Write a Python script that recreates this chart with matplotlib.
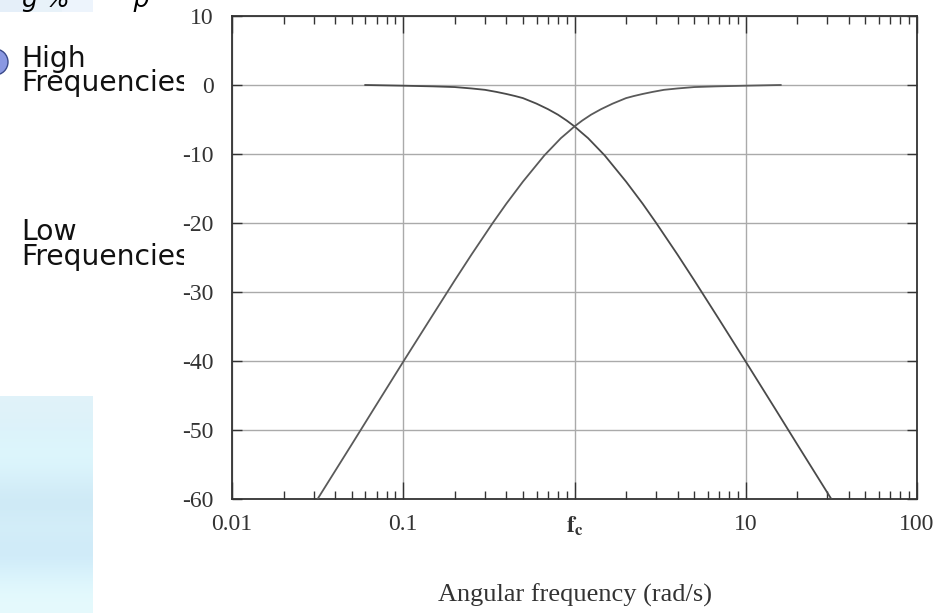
import matplotlib
matplotlib.use("Agg")
import matplotlib.pyplot as plt
import numpy as np
from matplotlib.patches import Rectangle, Circle
from matplotlib.ticker import LogLocator, NullFormatter, FixedLocator

# gain (dB)
w_low = [0.06, 0.1, 0.15, 0.2, 0.25, 0.3, 0.35, 0.4, 0.45, 0.5, 0.6, 0.7, 0.8, 0.9, 1.0,
         1.1, 1.2, 1.5, 2.0, 2.5, 3.0, 4.0, 5.0, 7.0, 10.0, 15.0, 20.0, 31.6]
g_low = [0.0, -0.1, -0.2, -0.3, -0.5, -0.7, -1.0, -1.3, -1.6, -1.9, -2.7, -3.5, -4.3,
         -5.15, -6.0, -6.9, -7.7, -10.2, -14.0, -17.2, -20.0, -24.6, -28.3, -34.0, -40.1,
         -47.1, -52.1, -60.0]
w_high = [0.0316, 0.05, 0.0667, 0.1, 0.143, 0.2, 0.25, 0.333, 0.4, 0.5, 0.667, 0.833,
          0.909, 1.0, 1.11, 1.25, 1.43, 1.67, 2.0, 2.22, 2.5, 2.86, 3.33, 4.0, 5.0, 6.67,
          10.0, 16.0]
g_high = [-60.0, -52.1, -47.1, -40.1, -34.0, -28.3, -24.6, -20.0, -17.2, -14.0, -10.2,
          -7.7, -6.9, -6.0, -5.15, -4.3, -3.5, -2.7, -1.9, -1.6, -1.3, -1.0, -0.7, -0.5,
          -0.3, -0.2, -0.1, 0.0]

x_ticks = [0.01, 0.1, 1, 10, 100]
x_labels = ["0.01", "0.1", r"$\mathbf{f}_{\mathbf{c}}$", "10", "100"]
y_ticks = [10, 0, -10, -20, -30, -40, -50, -60]

plt.rcParams["mathtext.fontset"] = "stix"

W, H = 933, 613
fig = plt.figure(figsize=(W / 100, H / 100), dpi=100)
fig.patch.set_facecolor("white")

def fx(px):
    return px / W

def fy(py):
    return 1 - py / H

# slide decoration on the left
band = fig.add_axes([0, fy(12), fx(93), 12 / H])
band.imshow(np.array([[[0.90, 0.94, 0.98], [0.91, 0.95, 0.98], [0.93, 0.96, 0.99]]]),
            aspect="auto", extent=[0, 1, 0, 1])
band.set_axis_off()
grad = fig.add_axes([0, 0, fx(93), 217 / H])
cols = np.array([[0.88, 0.95, 0.98], [0.86, 0.95, 0.98], [0.87, 0.97, 0.99],
                 [0.84, 0.94, 0.98], [0.80, 0.91, 0.96], [0.84, 0.94, 0.98],
                 [0.80, 0.91, 0.97], [0.86, 0.96, 0.99], [0.90, 0.98, 0.99]])
grad.imshow(cols[:, None, :], aspect="auto", interpolation="bicubic",
            extent=[0, 1, 0, 1])
grad.set_axis_off()

fig.patches.append(Circle((-0.05, (H - 62) / 100), 0.13, transform=fig.dpi_scale_trans,
                          facecolor="#8a98e2", edgecolor="#3a4a8a", lw=1, zorder=1))
fig.text(fx(22), fy(7), "g %        p", fontsize=18, style="italic",
         va="baseline", ha="left", zorder=1)
fig.text(fx(21), fy(45), "High\nFrequencies", fontsize=20.3, va="top", ha="left",
         linespacing=0.8, color="#111111", zorder=1)
fig.text(fx(21), fy(218), "Low\nFrequencies", fontsize=20.3, va="top", ha="left",
         linespacing=0.85, color="#111111", zorder=1)
fig.patches.append(Rectangle((fx(184), 0), 1 - fx(184), 1, transform=fig.transFigure,
                             facecolor="white", edgecolor="none", zorder=2))

# main chart
ax = fig.add_axes([fx(232), fy(499), (917 - 232) / W, (499 - 16) / H])
ax.set_zorder(3)
ax.set_xscale("log")
ax.set_xlim(0.01, 100)
ax.set_ylim(-60, 10)

ax.plot(w_low, g_low, color="#4a4a4a", lw=1.3, zorder=3)
ax.plot(w_high, g_high, color="#5a5a5a", lw=1.3, zorder=3)

ax.xaxis.set_major_locator(FixedLocator(x_ticks))
ax.set_xticklabels(x_labels)
ax.xaxis.set_minor_locator(LogLocator(base=10, subs=np.arange(2, 10)))
ax.xaxis.set_minor_formatter(NullFormatter())
ax.set_yticks(y_ticks)
ax.set_yticklabels([str(v) for v in y_ticks])

ax.grid(True, which="major", color="#aaaaaa", lw=1.0)
ax.tick_params(which="both", direction="in", top=True, right=True, color="#333333",
               width=1.0)
ax.tick_params(axis="x", which="major", length=12, pad=11)
ax.tick_params(axis="x", which="minor", length=6)
ax.tick_params(axis="y", which="major", length=7, pad=13)
for lab in ax.get_xticklabels() + ax.get_yticklabels():
    lab.set_fontfamily("Liberation Serif")
    lab.set_fontsize(17)
    lab.set_color("#333333")
for s in ax.spines.values():
    s.set_color("#333333")
    s.set_linewidth(1.3)

ax.set_xlabel("Angular frequency (rad/s)", fontfamily="Liberation Serif",
              fontsize=19, color="#333333", labelpad=33)

fig.savefig("out.png", dpi=100)
